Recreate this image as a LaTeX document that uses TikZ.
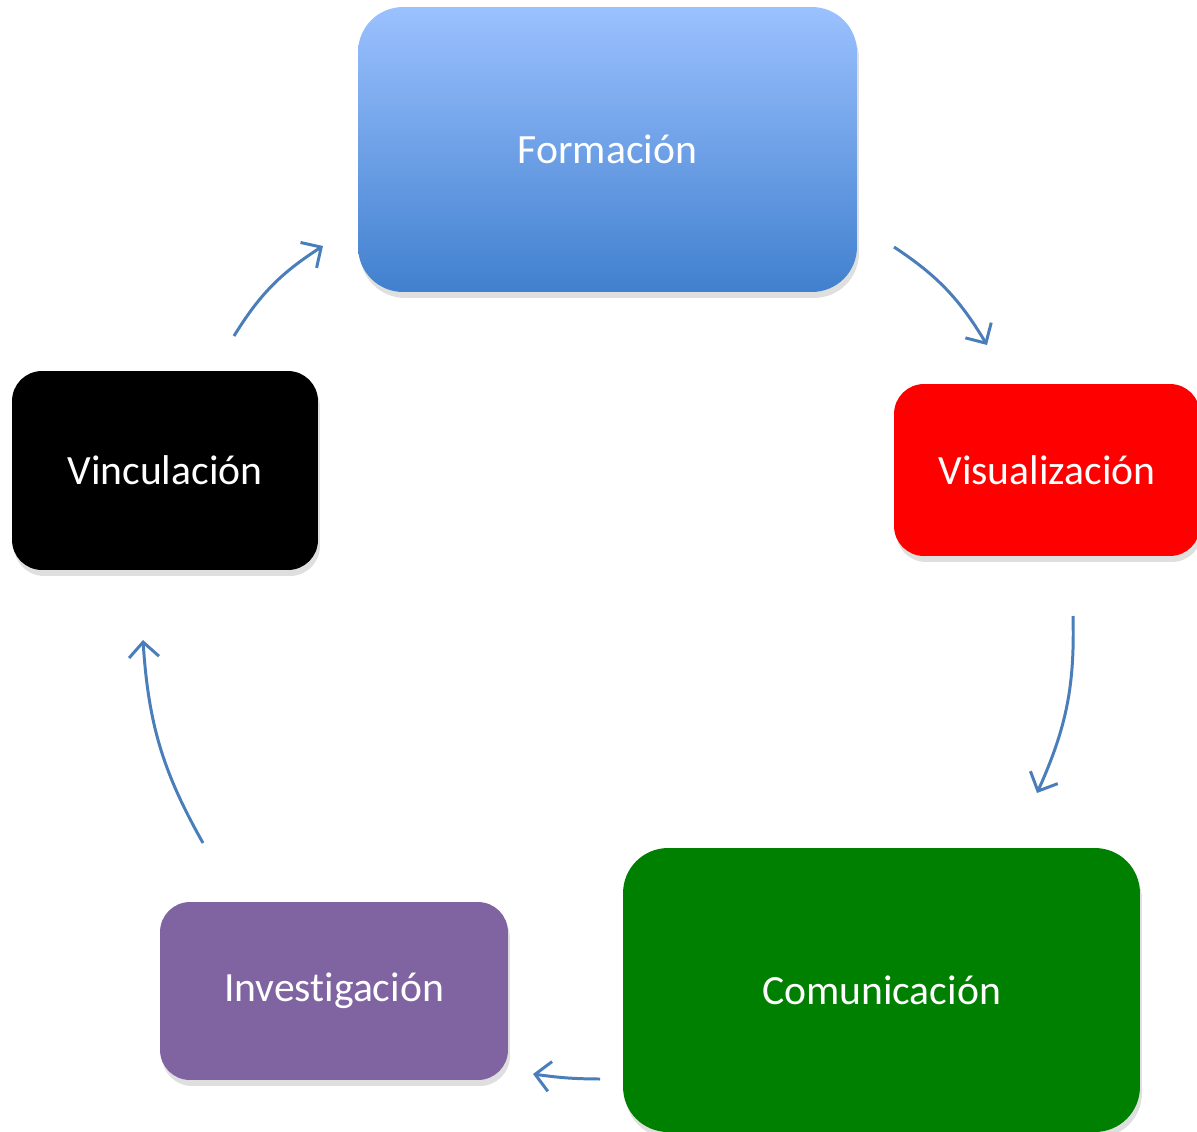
\documentclass[tikz,border=0pt]{standalone}
\usepackage{fontspec}
\setmainfont{Carlito}[Ligatures=NoCommon]
\usetikzlibrary{arrows.meta,shadows,bending}

\definecolor{azulclaro}{HTML}{9BC1FF}
\definecolor{azul}{HTML}{4180CE}
\definecolor{rojo}{HTML}{FF0000}
\definecolor{verde}{HTML}{008000}
\definecolor{morado}{HTML}{8064A2}
\definecolor{linea}{HTML}{4A7EBB}

\tikzset{
  etapa/.style={rounded corners=0.6cm, text=white, align=center,
    font=\fontsize{23.7}{28}\selectfont,
    drop shadow={opacity=0.25, shadow xshift=0.4mm, shadow yshift=-1.2mm}},
  flecha/.style={draw=linea, line width=1.7pt,
    -{Straight Barb[length=3mm,width=6mm,line width=1.7pt]}, bend left=13}
}

\begin{document}
\begin{tikzpicture}[x=0.02cm, y=-0.02cm]
  \useasboundingbox (0, 0) rectangle (1197, 1132);

  % Stages of the cycle
  \node[etapa, rounded corners=0.9cm, top color=azulclaro, bottom color=azul,
    minimum width=9.98cm, minimum height=5.7cm] (formacion) at (607.5, 149.5) {Formación};
  \node[etapa, fill=rojo, minimum width=6.12cm, minimum height=3.44cm]
    (visualizacion) at (1047, 470) {Visualización};
  \node[etapa, rounded corners=0.9cm, fill=verde, minimum width=10.34cm, minimum height=5.68cm]
    (comunicacion) at (881.5, 990) {Comunicación};
  \node[etapa, fill=morado, minimum width=6.96cm, minimum height=3.56cm]
    (investigacion) at (334, 991) {Investigación};
  \node[etapa, fill=black, minimum width=6.12cm, minimum height=3.98cm]
    (vinculacion) at (165, 470.5) {Vinculación};

  % Free ends of the arrows
  \coordinate (a1) at (234, 336);   \coordinate (b1) at (323, 246);
  \coordinate (a2) at (894, 247);   \coordinate (b2) at (987, 345);
  \coordinate (a3) at (1073, 616);  \coordinate (b3) at (1037, 793);
  \coordinate (a4) at (600, 1079);  \coordinate (b4) at (533, 1074);
  \coordinate (a5) at (203, 843);   \coordinate (b5) at (143, 640);

  % Arrows
  \draw[flecha] (a1) to (b1);
  \draw[flecha] (a2) to (b2);
  \draw[flecha] (a3) to (b3);
  \draw[flecha, bend left=4] (a4) to (b4);
  \draw[flecha] (a5) to (b5);
\end{tikzpicture}
\end{document}
